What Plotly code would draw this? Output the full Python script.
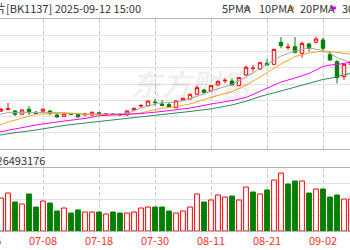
import plotly.graph_objects as go

# ---------------- data ----------------
dates = ["06-30", "07-01", "07-02", "07-03", "07-04", "07-07", "07-08", "07-09",
         "07-10", "07-11", "07-14", "07-15", "07-16", "07-17", "07-18", "07-21",
         "07-22", "07-23", "07-24", "07-25", "07-28", "07-29", "07-30", "07-31",
         "08-01", "08-04", "08-05", "08-06", "08-07", "08-08", "08-11", "08-12",
         "08-13", "08-14", "08-15", "08-18", "08-19", "08-20", "08-21", "08-22",
         "08-25", "08-26", "08-27", "08-28", "08-29", "09-01", "09-02", "09-03",
         "09-04", "09-05", "09-08"]

opens = [1834, 1844, 1834, 1814, 1844, 1826, 1833, 1834, 1809, 1801, 1816, 1814, 1809,
         1809, 1823, 1811, 1816, 1810, 1809, 1840, 1864, 1866, 1889, 1877, 1874, 1854,
         1900, 1908, 1937, 1963, 1957, 1994, 2020, 2018, 1990, 2055, 2095, 2092, 2127,
         2121, 2257, 2224, 2230, 2189, 2246, 2257, 2271, 2183, 2137, 2045, 2120]
highs = [1852, 1883, 1840, 1843, 1864, 1834, 1850, 1840, 1818, 1820, 1822, 1818, 1823,
         1830, 1830, 1822, 1820, 1822, 1837, 1856, 1875, 1898, 1908, 1902, 1887, 1898,
         1916, 1940, 1990, 1970, 1993, 2023, 2035, 2035, 2042, 2113, 2117, 2137, 2154,
         2217, 2289, 2250, 2289, 2260, 2254, 2291, 2285, 2199, 2148, 2127, 2150]
lows = [1828, 1843, 1803, 1811, 1809, 1816, 1830, 1807, 1790, 1798, 1810, 1788, 1805,
        1805, 1810, 1808, 1808, 1806, 1806, 1834, 1856, 1863, 1866, 1865, 1854, 1852,
        1896, 1905, 1932, 1943, 1954, 1991, 2004, 1990, 1987, 2051, 2076, 2086, 2113,
        2119, 2220, 2209, 2189, 2162, 2199, 2250, 2195, 2142, 2004, 2025, 2110]
closes = [1844, 1849, 1814, 1840, 1823, 1820, 1845, 1818, 1798, 1817, 1813, 1799, 1817,
          1826, 1813, 1817, 1812, 1811, 1834, 1850, 1868, 1895, 1886, 1867, 1860, 1895,
          1912, 1937, 1977, 1949, 1990, 2014, 2023, 1994, 2039, 2103, 2097, 2131, 2117,
          2213, 2236, 2227, 2195, 2250, 2220, 2277, 2220, 2148, 2039, 2121, 2140]

volumes = [16760000, 19300000, 14730000, 13720000, 18800000, 12190000, 15240000,
           14220000, 10160000, 11680000, 9140000, 10670000, 9650000, 9650000, 9650000,
           8640000, 9650000, 9140000, 9140000, 9650000, 11680000, 12190000, 12190000,
           12190000, 10160000, 9140000, 10160000, 12190000, 18800000, 14730000, 15750000,
           18290000, 17270000, 17780000, 15750000, 22350000, 19810000, 18800000, 20830000,
           25910000, 29460000, 23880000, 25400000, 25400000, 19300000, 21340000, 21340000,
           17270000, 18290000, 16260000, 16260000]
vol_up = [1, 1, 0, 1, 0, 0, 1, 0, 0, 1, 0, 0, 1, 1, 0, 1, 0, 0, 1, 1, 1, 1, 0, 0, 0, 1,
          1, 1, 1, 0, 1, 1, 1, 0, 1, 1, 0, 1, 0, 1, 1, 0, 0, 1, 0, 1, 0, 0, 0, 1, 1]

# moving-average lines, read at these bar positions
ma_pos = [-1, 1, 5, 9, 12, 14, 18, 20, 23, 25, 27, 30, 33, 35, 37, 40, 42, 44, 46, 47, 48, 50]
ma5 = [1803, 1825, 1825, 1823, 1815, 1814, 1818, 1852, 1887, 1887, 1908, 1957, 1997,
       2043, 2095, 2172, 2203, 2222, 2206, 2188, 2163, 2132]
ma10 = [1735, 1766, 1814, 1820, 1815, 1811, 1812, 1822, 1852, 1860, 1877, 1918, 1953,
        1992, 2043, 2123, 2169, 2191, 2203, 2200, 2195, 2182]
ma20 = [1698, 1714, 1748, 1772, 1788, 1805, 1812, 1818, 1831, 1840, 1852, 1877, 1898,
        1917, 1957, 2012, 2037, 2065, 2108, 2117, 2120, 2135]
ma30 = [1680, 1694, 1717, 1745, 1760, 1769, 1791, 1798, 1810, 1820, 1831, 1847, 1871,
        1894, 1923, 1957, 1982, 2006, 2028, 2035, 2046, 2066]

tick_dates = ["07-08", "07-18", "07-30", "08-11", "08-21", "09-02"]
title_text = "存储芯片[BK1137] 2025-09-12 15:00"
vol_text = "成交量: 26493176"
ma_names = ["5PMA", "10PMA", "20PMA", "30PMA"]

# ---------------- styles ----------------
RED = "#ff0000"
GREEN = "#008000"
MA_COLORS = ["#a8a8a8", "#f5a623", "#ff00ff", "#2e8b57"]
FONT = "Noto Sans CJK SC, Noto Sans, sans-serif"
W, H = 350, 250

xs = list(range(len(dates)))
tick_idx = [dates.index(d) for d in tick_dates]
xr = [-1 / 7, 349 / 7]

fig = go.Figure()

fig.add_trace(go.Candlestick(
    x=xs, open=opens, high=highs, low=lows, close=closes,
    increasing=dict(line=dict(color=RED, width=1), fillcolor="#ffffff"),
    decreasing=dict(line=dict(color=GREEN, width=1), fillcolor=GREEN),
    whiskerwidth=0, xaxis="x", yaxis="y", hoverinfo="skip"))

for vals, col in zip([ma5, ma10, ma20, ma30], MA_COLORS):
    fig.add_trace(go.Scatter(x=ma_pos, y=vals, mode="lines",
                             line=dict(color=col, width=1),
                             xaxis="x", yaxis="y", hoverinfo="skip"))

fig.add_trace(go.Bar(
    x=xs, y=volumes, width=0.68,
    marker=dict(color=["#ffffff" if u else GREEN for u in vol_up],
                line=dict(color=[RED if u else GREEN for u in vol_up], width=1)),
    xaxis="x2", yaxis="y2", hoverinfo="skip"))

def py(px):
    return 1 - px / H

def pxx(px):
    return px / W

common_x = dict(range=xr, tickvals=tick_idx, showgrid=True, gridcolor="#cccccc",
                griddash="4px,2px", gridwidth=1, showline=True, mirror=True,
                linecolor="#b4b4b4", linewidth=1, zeroline=False, ticks="",
                fixedrange=True)

fig.update_layout(
    width=W, height=H, margin=dict(l=0, r=0, t=0, b=0),
    paper_bgcolor="white", plot_bgcolor="white", showlegend=False,
    font=dict(family=FONT, size=11, color="#333333"),
    xaxis=dict(domain=[0, 1], anchor="y", showticklabels=False,
               rangeslider=dict(visible=False), **common_x),
    yaxis=dict(domain=[py(149), py(19)], range=[1600, 2400], tick0=1600, dtick=100,
               showticklabels=False, gridcolor="#e2e2e2", zeroline=False, fixedrange=True),
    xaxis2=dict(domain=[0, 1], anchor="y2", ticktext=tick_dates, showticklabels=True,
                tickfont=dict(color="#ff3030", size=11, family=FONT), **common_x),
    yaxis2=dict(domain=[py(231), py(168)], range=[0, 32000000], tick0=0, dtick=8000000,
                showticklabels=False, gridcolor="#e2e2e2", zeroline=False, fixedrange=True),
)

ann = []
ann.append(dict(text=title_text, xref="paper", yref="paper", x=pxx(143), y=py(8),
                xanchor="right", yanchor="middle", showarrow=False,
                font=dict(size=11, color="#333333", family=FONT)))
for name, xpos in zip(ma_names, [220, 257, 298, 340]):
    ann.append(dict(text=name, xref="paper", yref="paper", x=pxx(xpos), y=py(8),
                    xanchor="left", yanchor="middle", showarrow=False,
                    font=dict(size=11, color="#333333", family=FONT)))
ann.append(dict(text=vol_text, xref="paper", yref="paper", x=pxx(47), y=py(160),
                xanchor="right", yanchor="middle", showarrow=False,
                font=dict(size=11, color="#333333", family=FONT)))
ann.append(dict(text="06-26", xref="paper", yref="paper", x=pxx(-13), y=py(240),
                xanchor="center", yanchor="middle", showarrow=False,
                font=dict(size=11, color="#ff3030", family=FONT)))
ann.append(dict(text="<b><i>东方财富</i></b>", xref="paper", yref="paper", x=pxx(193), y=py(83),
                xanchor="center", yanchor="middle", showarrow=False,
                font=dict(size=30, color="rgba(0,0,0,0.07)", family=FONT)))
fig.update_layout(annotations=ann)

# legend colour keys
shapes = []
for col, (x0, x1) in zip(MA_COLORS[:3], [(244, 250), (289, 294), (331, 336)]):
    shapes.append(dict(type="rect", xref="paper", yref="paper",
                       x0=pxx(x0), x1=pxx(x1), y0=py(9.5), y1=py(6.5),
                       fillcolor=col, line=dict(width=0)))
fig.update_layout(shapes=shapes)

fig.write_html("out.html", config={"displayModeBar": False})
